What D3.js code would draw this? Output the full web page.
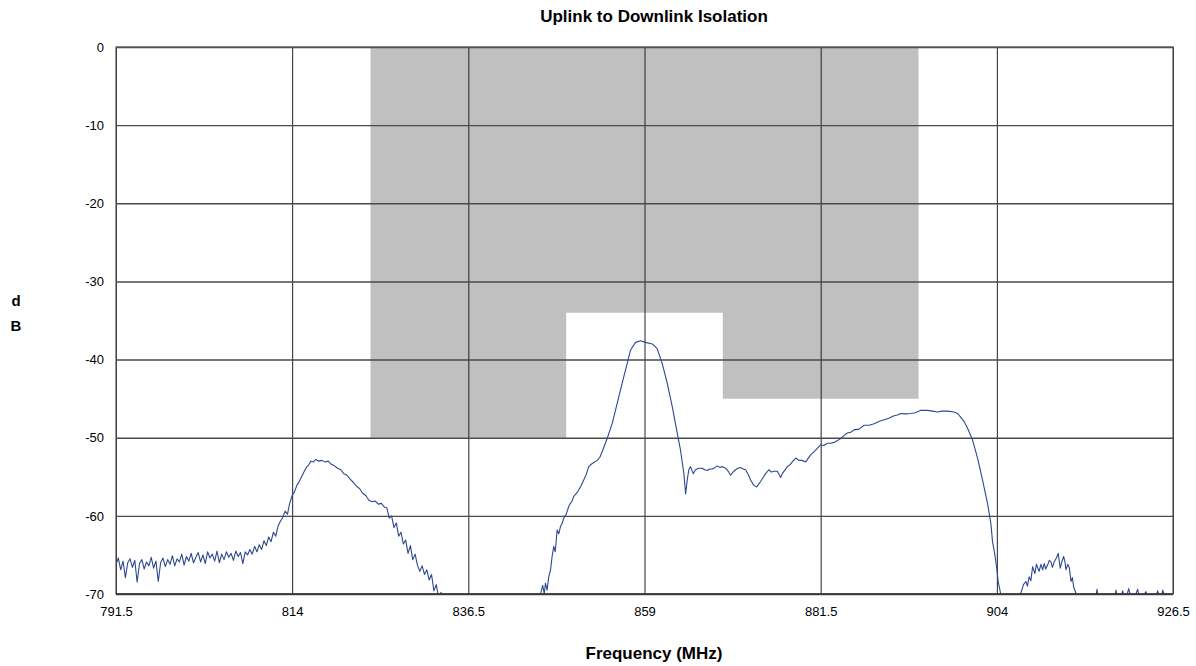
<!DOCTYPE html>
<html>
<head>
<meta charset="utf-8">
<script src="https://cdn.jsdelivr.net/npm/d3@7"></script>
<style>
  html, body { margin: 0; padding: 0; background: #fff; }
  svg { display: block; }
  text { font-family: 'Liberation Sans Narrow', 'Arial Narrow', 'Liberation Sans', sans-serif; }
</style>
</head>
<body>
<svg id="chart" width="1196" height="666"></svg>
<script>
// ---------------- data ----------------
const chartTitle = "Uplink to Downlink Isolation";
const xAxisTitle = "Frequency (MHz)";
const yAxisTitle = ["d", "B"];

const xTicks = [791.5, 814, 836.5, 859, 881.5, 904, 926.5];
const yTicks = [0, -10, -20, -30, -40, -50, -60, -70];

// Shaded isolation mask: [startMHz, endMHz, limit dB]
const maskBands = [
  [824, 849, -50],
  [849, 869, -34],
  [869, 894, -45]
];

// measured isolation trace [MHz, dB]
const trace = [
  [791.5,-66.2],[791.8,-65.4],[792.1,-66.9],[792.4,-65.8],[792.7,-67.9],[793.0,-66.0],[793.3,-65.5],[793.6,-66.6],
  [793.9,-65.7],[794.2,-68.5],[794.5,-66.1],[794.8,-65.6],[795.1,-66.8],[795.4,-65.9],[795.7,-66.4],[796.0,-65.3],
  [796.3,-66.7],[796.6,-65.8],[796.9,-68.4],[797.2,-66.0],[797.5,-65.4],[797.8,-66.5],[798.1,-65.6],[798.4,-66.2],
  [798.7,-65.1],[799.0,-66.4],[799.3,-65.5],[799.6,-65.9],[799.9,-64.9],[800.2,-66.3],[800.5,-65.2],[800.8,-65.8],
  [801.1,-64.8],[801.4,-66.0],[801.7,-65.3],[802.0,-64.7],[802.3,-65.9],[802.6,-65.0],[802.9,-66.1],[803.2,-64.6],
  [803.5,-65.4],[803.8,-64.9],[804.1,-65.8],[804.4,-64.5],[804.7,-66.0],[805.0,-64.9],[805.3,-65.6],[805.6,-64.6],
  [805.9,-65.3],[806.2,-64.8],[806.5,-65.7],[806.8,-64.5],[807.1,-65.2],[807.4,-64.7],[807.7,-66.1],[808.0,-64.6],
  [808.3,-65.0],[808.6,-64.3],[808.9,-64.9],[809.2,-63.9],[809.5,-64.6],[809.8,-63.7],[810.1,-64.3],[810.4,-63.2],
  [810.7,-63.8],[811.0,-62.7],[811.3,-63.3],[811.6,-62.1],[811.9,-62.6],[812.2,-61.3],[812.5,-60.7],[812.8,-60.2],
  [813.1,-59.4],[813.4,-59.8],[813.7,-58.3],[814.0,-57.4],[814.3,-56.9],[814.6,-56.1],[814.9,-55.6],[815.2,-55.0],
  [815.5,-54.4],[815.8,-53.8],[816.1,-53.5],[816.4,-53.0],[816.7,-53.1],[817.0,-52.8],[817.4,-53.0],[817.8,-52.9],
  [818.2,-53.1],[818.6,-53.0],[819.0,-53.4],[819.4,-53.6],[819.8,-53.9],[820.2,-54.1],[820.6,-54.6],[821.0,-54.8],
  [821.4,-55.3],[821.8,-55.7],[822.2,-56.2],[822.6,-56.5],[823.0,-57.1],[823.4,-57.4],[823.8,-58.0],[824.2,-58.2],
  [824.6,-58.1],[825.0,-58.5],[825.4,-58.4],[825.8,-58.9],[826.1,-59.0],[826.4,-60.3],[826.7,-60.0],[827.0,-61.5],
  [827.3,-60.9],[827.6,-62.6],[827.9,-62.1],[828.2,-63.6],[828.5,-63.1],[828.8,-64.8],[829.1,-63.8],[829.4,-65.6],
  [829.7,-64.9],[830.0,-66.3],[830.3,-67.1],[830.6,-66.4],[830.9,-67.5],[831.2,-66.9],[831.5,-68.2],[831.8,-67.5],
  [832.1,-69.6],[832.4,-68.8],[832.7,-70.4],[833.0,-69.8],[833.3,-71.5],[834.5,-74],[840.0,-78],[845.2,-73],
  [845.7,-70.1],[846.0,-68.9],[846.2,-70.0],[846.35,-68.6],[846.56,-69.5],[846.77,-67.8],[847.0,-66.9],[847.2,-65.2],
  [847.41,-63.9],[847.6,-64.6],[847.84,-61.8],[848.05,-62.3],[848.26,-61.4],[848.5,-60.9],[848.69,-60.3],[849.0,-59.8],
  [849.32,-58.8],[849.54,-58.4],[849.75,-58.1],[849.96,-57.5],[850.4,-57.0],[850.82,-56.3],[851.24,-55.4],[851.55,-54.7],
  [851.88,-53.7],[852.32,-53.3],[852.96,-52.9],[853.3,-52.5],[853.59,-51.8],[854.23,-50.1],[854.87,-48.2],[855.51,-45.6],
  [856.15,-43.0],[856.79,-40.5],[857.21,-38.8],[857.85,-37.8],[858.49,-37.6],[859.13,-37.8],[859.99,-38.0],[860.62,-38.6],
  [861.26,-40.5],[861.90,-43.0],[862.54,-46.0],[863.18,-49.4],[863.60,-51.6],[864.03,-54.6],[864.25,-57.2],[864.46,-55.4],
  [864.66,-54.1],[864.88,-53.7],[865.22,-54.6],[865.52,-54.1],[865.94,-53.9],[866.38,-53.9],[866.7,-54.1],[867.02,-54.2],
  [867.35,-54.0],[867.66,-54.0],[868.0,-53.8],[868.30,-53.6],[868.6,-53.8],[868.93,-53.7],[869.36,-53.9],[869.7,-54.3],
  [869.99,-54.8],[870.3,-54.4],[870.63,-54.1],[870.95,-53.9],[871.27,-53.8],[871.6,-54.0],[871.91,-54.1],[872.25,-54.7],
  [872.55,-55.4],[872.97,-56.1],[873.32,-56.3],[873.6,-55.9],[873.83,-55.6],[874.15,-55.1],[874.47,-54.6],[874.89,-54.1],
  [875.2,-54.4],[875.53,-54.3],[875.97,-54.3],[876.39,-55.1],[876.6,-54.6],[876.81,-54.3],[877.25,-53.7],[877.55,-53.5],
  [877.88,-53.1],[878.31,-52.6],[878.73,-52.9],[879.1,-52.9],[879.59,-53.1],[880.22,-52.2],[880.86,-51.6],[881.5,-50.9],
  [881.9,-51.0],[882.36,-50.7],[882.8,-50.7],[883.20,-50.6],[883.6,-50.4],[884.06,-50.1],[884.5,-49.7],[884.92,-49.4],
  [885.35,-49.3],[885.76,-49.0],[886.4,-48.9],[887.04,-48.4],[887.7,-48.4],[888.32,-48.2],[889.0,-47.9],[889.60,-47.7],
  [890.2,-47.5],[890.88,-47.2],[891.3,-47.1],[891.73,-46.9],[892.4,-46.95],[893.01,-46.9],[893.6,-46.8],[894.29,-46.5],
  [895.14,-46.5],[895.8,-46.6],[896.42,-46.7],[897.0,-46.6],[897.70,-46.6],[898.54,-46.7],[899.0,-46.9],[899.40,-47.4],
  [899.8,-47.9],[900.26,-48.8],[900.6,-49.6],[900.90,-50.3],[901.54,-52.6],[902.17,-55.4],[902.81,-58.4],[903.24,-61.0],
  [903.45,-63.3],[903.75,-65.0],[904.00,-66.8],[904.17,-68.4],[904.52,-70.1],[905.0,-72],[906.5,-72],[907.07,-69.9],
  [907.4,-68.8],[907.71,-68.4],[907.9,-69.0],[908.13,-67.8],[908.35,-68.3],[908.57,-66.5],[908.86,-67.4],[909.05,-66.2],
  [909.21,-66.6],[909.4,-67.1],[909.63,-66.2],[909.85,-66.9],[910.05,-66.1],[910.25,-66.8],[910.48,-66.3],[910.7,-65.7],
  [910.91,-65.9],[911.1,-66.6],[911.33,-65.9],[911.6,-65.4],[911.84,-64.8],[912.1,-66.7],[912.3,-65.9],[912.53,-65.2],
  [912.7,-65.9],[912.83,-66.9],[913.05,-66.2],[913.25,-66.6],[913.47,-68.4],[913.65,-67.9],[913.81,-69.1],[914.11,-69.9],
  [914.5,-71.5],[916.5,-71.5],[916.79,-69.4],[917.1,-71.5],[919.0,-71.5],[919.22,-69.5],[919.5,-71.0],[919.8,-70.5],
  [920.07,-69.6],[920.4,-71.0],[920.84,-69.3],[921.2,-70.8],[921.6,-70.4],[921.99,-69.4],[922.3,-70.9],[923.05,-69.7],
  [923.4,-71.0],[924.2,-70.6],[924.55,-69.6],[924.9,-71.0],[925.19,-69.5],[925.6,-71.0],[926.1,-70.3]
];

// ---------------- drawing ----------------
const svg = d3.select("#chart");
const plot = { left: 116, right: 1173, top: 47, bottom: 594 };

const x = d3.scaleLinear().domain([791.5, 926.5]).range([plot.left, plot.right]);
const y = d3.scaleLinear().domain([-70, 0]).range([plot.bottom, plot.top]);

// clip
svg.append("defs").append("clipPath").attr("id", "plotClip")
  .append("rect")
  .attr("x", plot.left).attr("y", plot.top)
  .attr("width", plot.right - plot.left).attr("height", plot.bottom - plot.top);

// mask (gray area)
const maskPts = [[maskBands[0][0], 0], [maskBands[maskBands.length - 1][1], 0]];
for (let i = maskBands.length - 1; i >= 0; i--) {
  maskPts.push([maskBands[i][1], maskBands[i][2]]);
  maskPts.push([maskBands[i][0], maskBands[i][2]]);
}
svg.append("path")
  .attr("d", d3.line().x(d => x(d[0])).y(d => y(d[1]))(maskPts) + "Z")
  .attr("fill", "#c0c0c0")
  .attr("stroke", "none");

// gridlines
const gx = svg.append("g")
  .attr("transform", `translate(0,${plot.bottom})`)
  .call(d3.axisBottom(x).tickValues(xTicks).tickSize(-(plot.bottom - plot.top)).tickFormat(""));
gx.select(".domain").remove();
gx.selectAll(".tick line").attr("stroke", "#222").attr("stroke-width", 1);

const gy = svg.append("g")
  .attr("transform", `translate(${plot.left},0)`)
  .call(d3.axisLeft(y).tickValues(yTicks).tickSize(-(plot.right - plot.left)).tickFormat(""));
gy.select(".domain").remove();
gy.selectAll(".tick line").attr("stroke", "#4a4a4a").attr("stroke-width", 1.4);

// frame
svg.append("rect")
  .attr("x", plot.left).attr("y", plot.top)
  .attr("width", plot.right - plot.left).attr("height", plot.bottom - plot.top)
  .attr("fill", "none").attr("stroke", "#555").attr("stroke-width", 1.2);

// trace
svg.append("path")
  .datum(trace)
  .attr("clip-path", "url(#plotClip)")
  .attr("d", d3.line().x(d => x(d[0])).y(d => y(d[1])))
  .attr("fill", "none")
  .attr("stroke", "#2f4791")
  .attr("stroke-width", 1.1)
  .attr("stroke-linejoin", "round");

// bottom axis line (darker)
svg.append("line")
  .attr("x1", plot.left).attr("x2", plot.right)
  .attr("y1", plot.bottom).attr("y2", plot.bottom)
  .attr("stroke", "#333").attr("stroke-width", 1.5);

// tick labels
const xl = svg.append("g")
  .attr("transform", `translate(0,${plot.bottom})`)
  .call(d3.axisBottom(x).tickValues(xTicks).tickSize(0).tickPadding(13).tickFormat(d => String(d)));
xl.select(".domain").remove();
xl.selectAll("text").attr("font-size", 13).attr("fill", "#000")
  .attr("font-family", "'Liberation Sans Narrow', 'Arial Narrow', sans-serif");

const yl = svg.append("g")
  .attr("transform", `translate(${plot.left},0)`)
  .call(d3.axisLeft(y).tickValues(yTicks).tickSize(0).tickPadding(12).tickFormat(d => String(d)));
yl.select(".domain").remove();
yl.selectAll("text").attr("font-size", 13).attr("fill", "#000")
  .attr("font-family", "'Liberation Sans Narrow', 'Arial Narrow', sans-serif");

// titles
svg.append("text")
  .attr("x", 654).attr("y", 22)
  .attr("text-anchor", "middle")
  .attr("font-size", 17).attr("font-weight", "bold")
  .text(chartTitle);

svg.append("text")
  .attr("x", 654).attr("y", 659)
  .attr("text-anchor", "middle")
  .attr("font-size", 17).attr("font-weight", "bold")
  .text(xAxisTitle);

svg.append("text")
  .attr("x", 16).attr("y", 306)
  .attr("text-anchor", "middle")
  .attr("font-size", 15).attr("font-weight", "bold")
  .text(yAxisTitle[0]);
svg.append("text")
  .attr("x", 16).attr("y", 331)
  .attr("text-anchor", "middle")
  .attr("font-size", 15).attr("font-weight", "bold")
  .text(yAxisTitle[1]);
</script>
</body>
</html>
